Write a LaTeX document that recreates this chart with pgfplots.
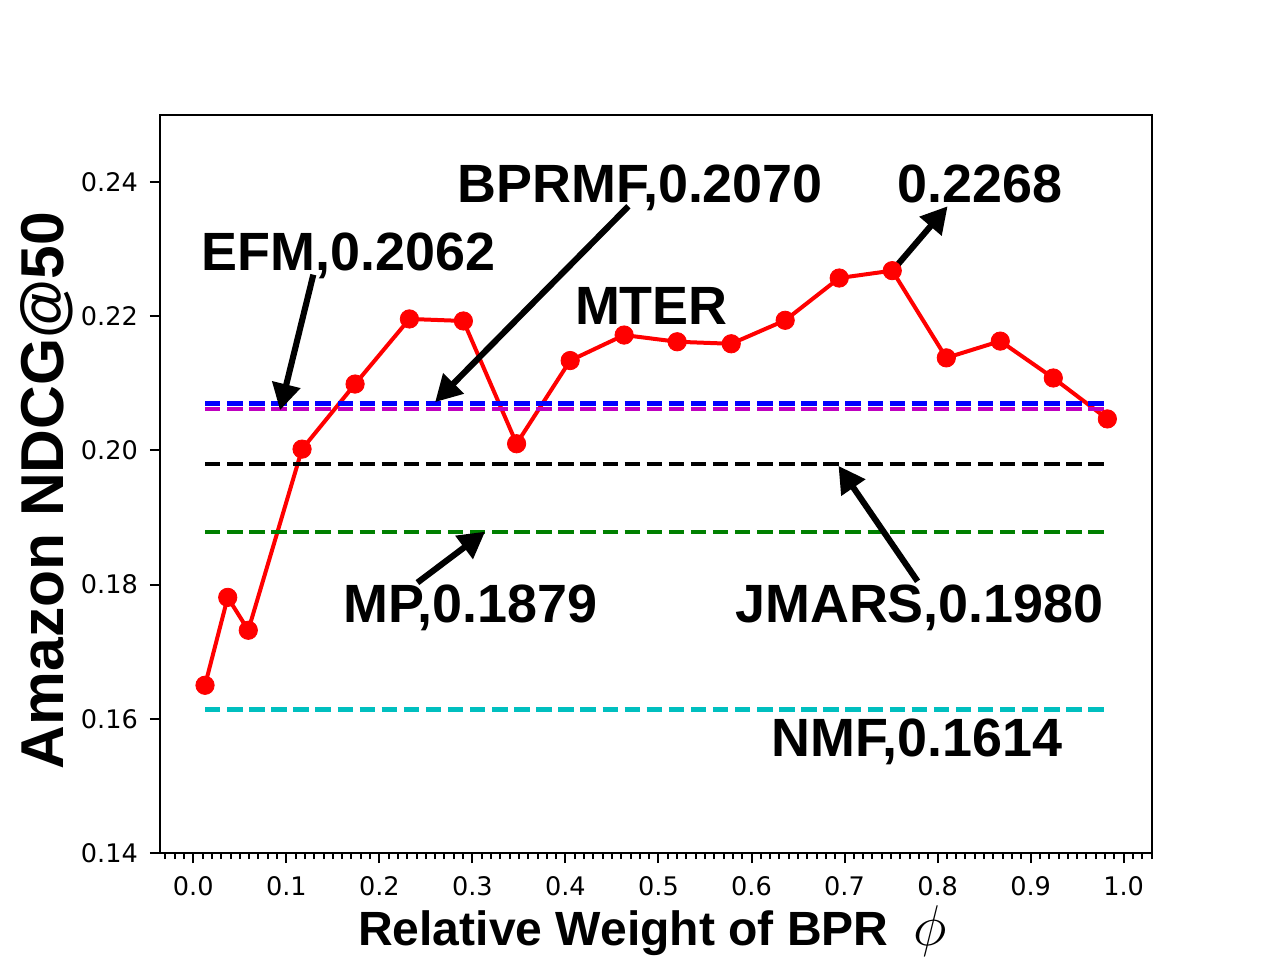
\documentclass[border=0pt]{standalone}
\usepackage{fontspec}
\usepackage{graphicx}
\usepackage{pgfplots}
\usepackage{pgfplotstable}
\pgfplotsset{compat=1.18}
\usetikzlibrary{arrows.meta}
\newfontfamily\tickfont{DejaVu Sans}
\newfontfamily\labfont{Liberation Sans}
\newcommand\annfont{\labfont\bfseries\fontsize{19.4bp}{22bp}\selectfont}
\definecolor{mplmag}{rgb}{0.75,0,0.75}
\definecolor{mplgreen}{rgb}{0,0.5,0}
\definecolor{mplcyan}{rgb}{0,0.75,0.75}

\pgfplotstableread{
x y
0.0126 0.1650
0.0370 0.1781
0.0591 0.1732
0.1169 0.2002
0.1739 0.2099
0.2323 0.2196
0.2903 0.2193
0.3475 0.2010
0.4051 0.2134
0.4631 0.2172
0.5201 0.2162
0.5782 0.2159
0.6362 0.2194
0.6943 0.2257
0.7513 0.2268
0.8094 0.2138
0.8674 0.2163
0.9244 0.2108
0.9825 0.2047
}\ndcg

\begin{document}
\begin{tikzpicture}
\useasboundingbox (0,0) rectangle (460.8bp,345.6bp);
\begin{axis}[
  at={(57.6bp,38.52bp)}, anchor=south west,
  scale only axis, width=357.12bp, height=265.68bp,
  xmin=-0.0358, xmax=1.0305, ymin=0.14, ymax=0.25,
  xtick={0,0.1,0.2,0.3,0.4,0.5,0.6,0.7,0.8,0.9,1.0},
  xticklabels={0.0,0.1,0.2,0.3,0.4,0.5,0.6,0.7,0.8,0.9,1.0},
  minor xtick={-0.03,-0.02,-0.01,0.01,0.02,0.03,0.04,0.05,0.06,0.07,0.08,0.09,
    0.11,0.12,0.13,0.14,0.15,0.16,0.17,0.18,0.19,
    0.21,0.22,0.23,0.24,0.25,0.26,0.27,0.28,0.29,
    0.31,0.32,0.33,0.34,0.35,0.36,0.37,0.38,0.39,
    0.41,0.42,0.43,0.44,0.45,0.46,0.47,0.48,0.49,
    0.51,0.52,0.53,0.54,0.55,0.56,0.57,0.58,0.59,
    0.61,0.62,0.63,0.64,0.65,0.66,0.67,0.68,0.69,
    0.71,0.72,0.73,0.74,0.75,0.76,0.77,0.78,0.79,
    0.81,0.82,0.83,0.84,0.85,0.86,0.87,0.88,0.89,
    0.91,0.92,0.93,0.94,0.95,0.96,0.97,0.98,0.99,1.01,1.02,1.03},
  ytick={0.14,0.16,0.18,0.20,0.22,0.24},
  yticklabels={0.14,0.16,0.18,0.20,0.22,0.24},
  tick align=outside, xtick pos=bottom, ytick pos=left,
  major tick length=3.6bp, minor tick length=2.2bp,
  tick style={black, line width=0.72bp},
  axis line style={line width=0.72bp},
  xticklabel style={font=\tickfont\fontsize{9.2bp}{10bp}\selectfont, inner sep=0pt, anchor=north, yshift=-4.8bp},
  yticklabel style={font=\tickfont\fontsize{9.2bp}{10bp}\selectfont, inner sep=0pt, anchor=east, xshift=-4.2bp},
  xlabel={\labfont\bfseries\fontsize{17.3bp}{20bp}\selectfont Relative Weight of BPR\hspace{9bp}{\fontsize{20bp}{22bp}\selectfont$\phi$}},
  xlabel style={at={(axis description cs:0.4965,-0.1247)}, anchor=base, inner sep=0pt},
  ylabel={\labfont\bfseries\fontsize{21.8bp}{24bp}\selectfont Amazon NDCG@50},
  ylabel style={at={(axis description cs:-0.0973,0.4912)}, anchor=base, inner sep=0pt},
  clip=false,
]
\addplot[red, line width=1.44bp, mark=*, mark size=3.3bp,
  mark options={solid, fill=red, draw=red, line width=0.3bp}] table {\ndcg};
\addplot[blue, line width=1.5bp, dash pattern=on 5.55bp off 2.4bp] coordinates {(0.0126,0.2070) (0.9825,0.2070)};
\addplot[mplmag, line width=1.5bp, dash pattern=on 5.55bp off 2.4bp] coordinates {(0.0126,0.2062) (0.9825,0.2062)};
\addplot[black, line width=1.5bp, dash pattern=on 5.55bp off 2.4bp] coordinates {(0.0126,0.1980) (0.9825,0.1980)};
\addplot[mplgreen, line width=1.5bp, dash pattern=on 5.55bp off 2.4bp] coordinates {(0.0126,0.1879) (0.9825,0.1879)};
\addplot[mplcyan, line width=1.5bp, dash pattern=on 5.55bp off 2.4bp] coordinates {(0.0126,0.1614) (0.9825,0.1614)};

\tikzset{annarrow/.style={black, line width=2.2bp, -{Triangle[width=10bp,length=9.5bp]}}}
\draw[annarrow] (axis cs:0.129,0.2262) -- (axis cs:0.0932,0.2060);
\draw[annarrow] (axis cs:0.4677,0.2364) -- (axis cs:0.2599,0.2072);
\draw[annarrow] (axis cs:0.7510,0.2267) -- (axis cs:0.8108,0.2364);
\draw[annarrow] (axis cs:0.2409,0.1803) -- (axis cs:0.3137,0.1879);
\draw[annarrow] (axis cs:0.7785,0.1805) -- (axis cs:0.6935,0.1977);

\node[anchor=base west, inner sep=0pt, font=\annfont] at (axis cs:0.0084,0.2268) {EFM,0.2062};
\node[anchor=base west, inner sep=0pt, font=\annfont] at (axis cs:0.2833,0.2369) {BPRMF,0.2070};
\node[anchor=base west, inner sep=0pt, font=\annfont] at (axis cs:0.7566,0.2369) {0.2268};
\node[anchor=base west, inner sep=0pt, font=\annfont] at (axis cs:0.4098,0.2188) {MTER};
\node[anchor=base west, inner sep=0pt, font=\annfont] at (axis cs:0.1608,0.1743) {MP,0.1879};
\node[anchor=base west, inner sep=0pt, font=\annfont] at (axis cs:0.5820,0.1743) {JMARS,0.1980};
\node[anchor=base west, inner sep=0pt, font=\annfont] at (axis cs:0.6213,0.1544) {NMF,0.1614};
\end{axis}
\end{tikzpicture}
\end{document}
